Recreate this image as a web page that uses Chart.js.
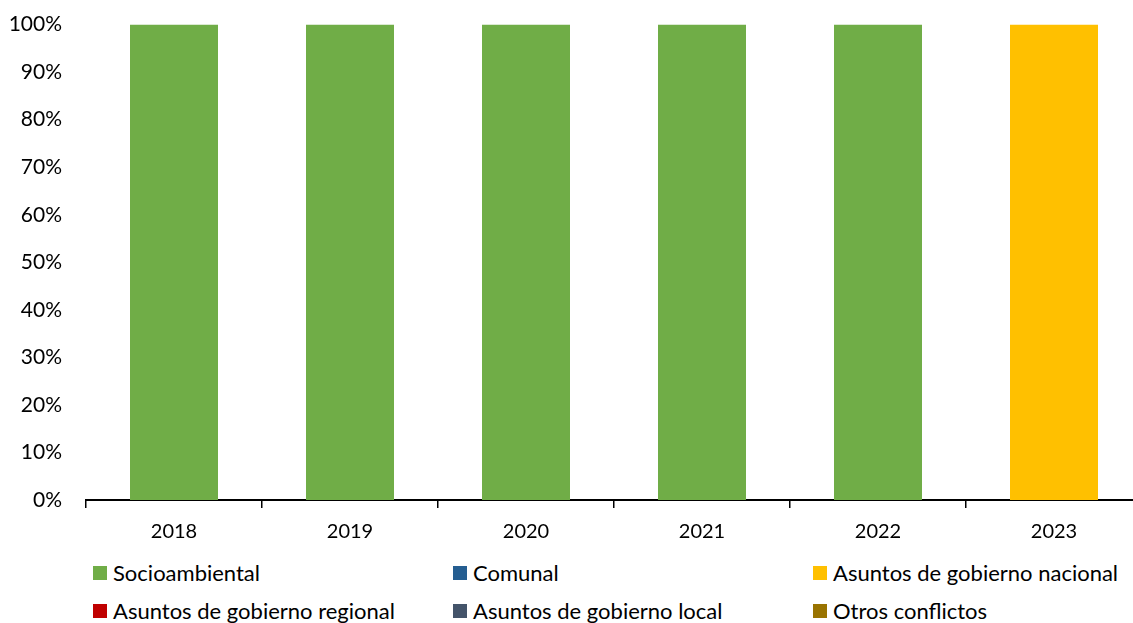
<!DOCTYPE html>
<html>
<head>
<meta charset="utf-8">
<script src="https://cdn.jsdelivr.net/npm/chart.js@4"></script>
<style>
    body { margin: 0; background: #fff; width: 1133px; height: 623px; overflow: hidden; position: relative; font-family: Lato, 'Noto Sans', sans-serif; }
    #wrap { position: absolute; left: 0; top: -12px; width: 1160px; height: 562px; }
    #legend { position: absolute; left: 0; top: 560px; width: 1133px; }
    .item { position: absolute; font-size: 22px; color: #000; white-space: nowrap; line-height: 26px; }
    .item span.box { position: absolute; left: -20px; top: 6px; width: 14px; height: 14px; }
</style>
</head>
<body>
<div id="wrap"><canvas id="chart" width="1160" height="562"></canvas></div>
<div id="legend"></div>
<script>
// datos
const years = ['2018', '2019', '2020', '2021', '2022', '2023'];
const socioambiental = [100, 100, 100, 100, 100, 0];
const comunal = [0, 0, 0, 0, 0, 0];
const gobNacional = [0, 0, 0, 0, 0, 100];
const gobRegional = [0, 0, 0, 0, 0, 0];
const gobLocal = [0, 0, 0, 0, 0, 0];
const otros = [0, 0, 0, 0, 0, 0];

const series = [
    { label: 'Socioambiental', data: socioambiental, color: '#70AD47' },
    { label: 'Comunal', data: comunal, color: '#255E91' },
    { label: 'Asuntos de gobierno nacional', data: gobNacional, color: '#FFC000' },
    { label: 'Asuntos de gobierno regional', data: gobRegional, color: '#C00000' },
    { label: 'Asuntos de gobierno local', data: gobLocal, color: '#44546A' },
    { label: 'Otros conflictos', data: otros, color: '#997300' }
];

const font = { family: "Lato, 'Noto Sans', sans-serif", size: 21 };

new Chart(document.getElementById('chart').getContext('2d'), {
    type: 'bar',
    data: {
        labels: years,
        datasets: series.map(s => ({
            label: s.label,
            data: s.data,
            backgroundColor: s.color,
            borderWidth: 0,
            barPercentage: 0.5,
            categoryPercentage: 1
        }))
    },
    options: {
        responsive: false,
        animation: false,
        layout: { padding: { top: 3, right: 18, bottom: 0, left: 0 } },
        plugins: { legend: { display: false }, tooltip: { enabled: false } },
        scales: {
            x: {
                stacked: true,
                grid: { display: true, offset: true, drawOnChartArea: false, color: '#000', tickLength: 8, lineWidth: 1.5 },
                border: { display: true, color: '#000', width: 2 },
                ticks: { color: '#000', font: { family: font.family, size: 20 }, padding: 12 },
                afterFit: axis => { axis.height = 50; }
            },
            y: {
                stacked: true,
                min: 0,
                max: 100,
                grid: { display: false, drawTicks: false },
                border: { display: false },
                ticks: { stepSize: 10, color: '#000', font: font, padding: 24, callback: v => v + '%' },
                afterFit: axis => { axis.width = 86; }
            }
        }
    }
});

// leyenda
const legend = document.getElementById('legend');
const colX = [113, 473, 833];
const rowY = [0, 38];
series.forEach((s, i) => {
    const el = document.createElement('div');
    el.className = 'item';
    el.style.left = colX[i % 3] + 'px';
    el.style.top = rowY[Math.floor(i / 3)] + 'px';
    el.innerHTML = '<span class="box" style="background:' + s.color + '"></span>' + s.label;
    legend.appendChild(el);
});
</script>
</body>
</html>
